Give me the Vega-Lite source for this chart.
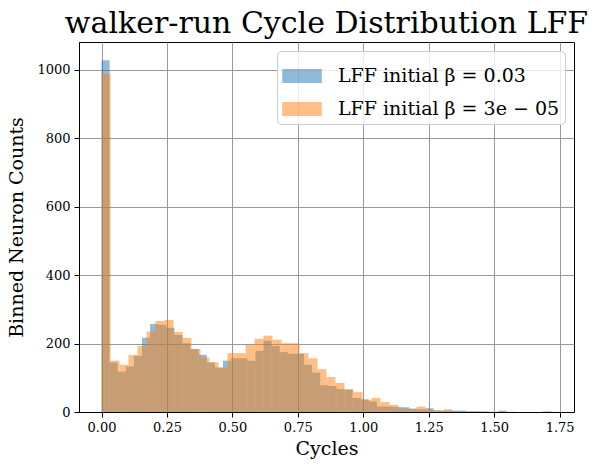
{
  "$schema": "https://vega.github.io/schema/vega-lite/v6.json",
  "autosize": "none",
  "width": 495,
  "height": 370,
  "padding": {"left": 79, "top": 42, "right": 28, "bottom": 57},
  "background": "white",
  "title": {"text": "walker-run Cycle Distribution LFF", "font": "DejaVu Serif", "fontSize": 30, "fontWeight": "normal", "color": "black", "anchor": "middle", "baseline": "alphabetic", "offset": -21},
  "config": {
    "view": {"stroke": "black", "strokeWidth": 1},
    "axis": {"labelFont": "DejaVu Serif", "labelFontSize": 13, "labelColor": "black", "titleFont": "DejaVu Serif", "titleFontSize": 19, "titleFontWeight": "normal", "titleColor": "black", "tickColor": "black", "tickSize": 5, "domainColor": "black", "gridColor": "#999999", "gridWidth": 1, "labelPadding": 4}
  },
  "data": {"values": [
    {"s": "b", "x0": 0.0, "x1": 0.0309, "c": 1028},
    {"s": "b", "x0": 0.0309, "x1": 0.0619, "c": 145},
    {"s": "b", "x0": 0.0619, "x1": 0.0928, "c": 118},
    {"s": "b", "x0": 0.0928, "x1": 0.1238, "c": 133},
    {"s": "b", "x0": 0.1238, "x1": 0.1547, "c": 164},
    {"s": "b", "x0": 0.1547, "x1": 0.1856, "c": 217},
    {"s": "b", "x0": 0.1856, "x1": 0.2166, "c": 257},
    {"s": "b", "x0": 0.2166, "x1": 0.2475, "c": 255},
    {"s": "b", "x0": 0.2475, "x1": 0.2785, "c": 246},
    {"s": "b", "x0": 0.2785, "x1": 0.3094, "c": 225},
    {"s": "b", "x0": 0.3094, "x1": 0.3403, "c": 201},
    {"s": "b", "x0": 0.3403, "x1": 0.3713, "c": 184},
    {"s": "b", "x0": 0.3713, "x1": 0.4022, "c": 167},
    {"s": "b", "x0": 0.4022, "x1": 0.4332, "c": 145},
    {"s": "b", "x0": 0.4332, "x1": 0.4641, "c": 130},
    {"s": "b", "x0": 0.4641, "x1": 0.495, "c": 150},
    {"s": "b", "x0": 0.495, "x1": 0.526, "c": 157},
    {"s": "b", "x0": 0.526, "x1": 0.5569, "c": 157},
    {"s": "b", "x0": 0.5569, "x1": 0.5879, "c": 150},
    {"s": "b", "x0": 0.5879, "x1": 0.6188, "c": 179},
    {"s": "b", "x0": 0.6188, "x1": 0.6497, "c": 208},
    {"s": "b", "x0": 0.6497, "x1": 0.6807, "c": 193},
    {"s": "b", "x0": 0.6807, "x1": 0.7116, "c": 175},
    {"s": "b", "x0": 0.7116, "x1": 0.7426, "c": 170},
    {"s": "b", "x0": 0.7426, "x1": 0.7735, "c": 170},
    {"s": "b", "x0": 0.7735, "x1": 0.8044, "c": 138},
    {"s": "b", "x0": 0.8044, "x1": 0.8354, "c": 115},
    {"s": "b", "x0": 0.8354, "x1": 0.8663, "c": 78},
    {"s": "b", "x0": 0.8663, "x1": 0.8973, "c": 76},
    {"s": "b", "x0": 0.8973, "x1": 0.9282, "c": 67},
    {"s": "b", "x0": 0.9282, "x1": 0.9591, "c": 65},
    {"s": "b", "x0": 0.9591, "x1": 0.9901, "c": 41},
    {"s": "b", "x0": 0.9901, "x1": 1.021, "c": 37},
    {"s": "b", "x0": 1.021, "x1": 1.052, "c": 31},
    {"s": "b", "x0": 1.052, "x1": 1.0829, "c": 16},
    {"s": "b", "x0": 1.0829, "x1": 1.1138, "c": 16},
    {"s": "b", "x0": 1.1138, "x1": 1.1448, "c": 15},
    {"s": "b", "x0": 1.1448, "x1": 1.1757, "c": 14},
    {"s": "b", "x0": 1.1757, "x1": 1.2067, "c": 10},
    {"s": "b", "x0": 1.2067, "x1": 1.2376, "c": 8},
    {"s": "b", "x0": 1.2376, "x1": 1.2685, "c": 11},
    {"s": "b", "x0": 1.2685, "x1": 1.2995, "c": 5},
    {"s": "b", "x0": 1.2995, "x1": 1.3304, "c": 4},
    {"s": "b", "x0": 1.3304, "x1": 1.3614, "c": 4},
    {"s": "b", "x0": 1.3614, "x1": 1.3923, "c": 4},
    {"s": "b", "x0": 1.3923, "x1": 1.4232, "c": 1},
    {"s": "b", "x0": 1.4232, "x1": 1.4542, "c": 1},
    {"s": "b", "x0": 1.5161, "x1": 1.547, "c": 4},
    {"s": "o", "x0": 0.0, "x1": 0.0344, "c": 988},
    {"s": "o", "x0": 0.0344, "x1": 0.0688, "c": 150},
    {"s": "o", "x0": 0.0688, "x1": 0.1031, "c": 138},
    {"s": "o", "x0": 0.1031, "x1": 0.1375, "c": 167},
    {"s": "o", "x0": 0.1375, "x1": 0.1719, "c": 193},
    {"s": "o", "x0": 0.1719, "x1": 0.2063, "c": 235},
    {"s": "o", "x0": 0.2063, "x1": 0.2407, "c": 266},
    {"s": "o", "x0": 0.2407, "x1": 0.275, "c": 269},
    {"s": "o", "x0": 0.275, "x1": 0.3094, "c": 234},
    {"s": "o", "x0": 0.3094, "x1": 0.3438, "c": 217},
    {"s": "o", "x0": 0.3438, "x1": 0.3782, "c": 184},
    {"s": "o", "x0": 0.3782, "x1": 0.4126, "c": 159},
    {"s": "o", "x0": 0.4126, "x1": 0.4469, "c": 145},
    {"s": "o", "x0": 0.4469, "x1": 0.4813, "c": 130},
    {"s": "o", "x0": 0.4813, "x1": 0.5157, "c": 172},
    {"s": "o", "x0": 0.5157, "x1": 0.5501, "c": 172},
    {"s": "o", "x0": 0.5501, "x1": 0.5845, "c": 196},
    {"s": "o", "x0": 0.5845, "x1": 0.6188, "c": 214},
    {"s": "o", "x0": 0.6188, "x1": 0.6532, "c": 223},
    {"s": "o", "x0": 0.6532, "x1": 0.6876, "c": 211},
    {"s": "o", "x0": 0.6876, "x1": 0.722, "c": 201},
    {"s": "o", "x0": 0.722, "x1": 0.7564, "c": 201},
    {"s": "o", "x0": 0.7564, "x1": 0.7907, "c": 172},
    {"s": "o", "x0": 0.7907, "x1": 0.8251, "c": 157},
    {"s": "o", "x0": 0.8251, "x1": 0.8595, "c": 125},
    {"s": "o", "x0": 0.8595, "x1": 0.8939, "c": 102},
    {"s": "o", "x0": 0.8939, "x1": 0.9283, "c": 85},
    {"s": "o", "x0": 0.9283, "x1": 0.9626, "c": 67},
    {"s": "o", "x0": 0.9626, "x1": 0.997, "c": 58},
    {"s": "o", "x0": 0.997, "x1": 1.0314, "c": 35},
    {"s": "o", "x0": 1.0314, "x1": 1.0658, "c": 41},
    {"s": "o", "x0": 1.0658, "x1": 1.1002, "c": 29},
    {"s": "o", "x0": 1.1002, "x1": 1.1345, "c": 21},
    {"s": "o", "x0": 1.1345, "x1": 1.1689, "c": 10},
    {"s": "o", "x0": 1.1689, "x1": 1.2033, "c": 9},
    {"s": "o", "x0": 1.2033, "x1": 1.2377, "c": 16},
    {"s": "o", "x0": 1.2377, "x1": 1.2721, "c": 7},
    {"s": "o", "x0": 1.2721, "x1": 1.3064, "c": 4},
    {"s": "o", "x0": 1.3064, "x1": 1.3408, "c": 8},
    {"s": "o", "x0": 1.3408, "x1": 1.3752, "c": 3},
    {"s": "o", "x0": 1.3752, "x1": 1.4096, "c": 3},
    {"s": "o", "x0": 1.4096, "x1": 1.444, "c": 3},
    {"s": "o", "x0": 1.444, "x1": 1.4783, "c": 3},
    {"s": "o", "x0": 1.4783, "x1": 1.5127, "c": 1},
    {"s": "o", "x0": 1.5471, "x1": 1.5815, "c": 1},
    {"s": "o", "x0": 1.6846, "x1": 1.719, "c": 3}
  ]},
  "mark": {"type": "rect", "opacity": 0.5},
  "encoding": {
    "x": {"field": "x0", "type": "quantitative", "scale": {"domain": [-0.086, 1.805], "nice": false, "zero": false},
      "axis": {"values": [0, 0.25, 0.5, 0.75, 1.0, 1.25, 1.5, 1.75], "format": ".2f", "title": "Cycles", "titlePadding": 5}},
    "x2": {"field": "x1"},
    "y": {"field": "c", "type": "quantitative", "scale": {"domain": [0, 1081], "nice": false},
      "axis": {"values": [0, 200, 400, 600, 800, 1000], "format": "d", "title": "Binned Neuron Counts", "titlePadding": 10}},
    "y2": {"datum": 0},
    "color": {"field": "s", "type": "nominal",
      "scale": {"domain": ["b", "o"], "range": ["#1f77b4", "#ff7f0e"]},
      "legend": {"title": null, "orient": "top-right", "offset": 9, "labelExpr": "datum.value == 'b' ? 'LFF initial β = 0.03' : 'LFF initial β = 3e − 05'",
        "labelFont": "DejaVu Serif", "labelFontSize": 19, "labelColor": "black", "labelOffset": 16, "labelLimit": 400,
        "symbolType": "M-1,-0.35H1V0.35H-1Z", "symbolSize": 1568, "symbolOpacity": 0.5, "symbolStrokeWidth": 0,
        "fillColor": "rgba(255,255,255,0.8)", "strokeColor": "#cccccc", "cornerRadius": 4, "padding": 5, "rowPadding": 3}}
  }
}
